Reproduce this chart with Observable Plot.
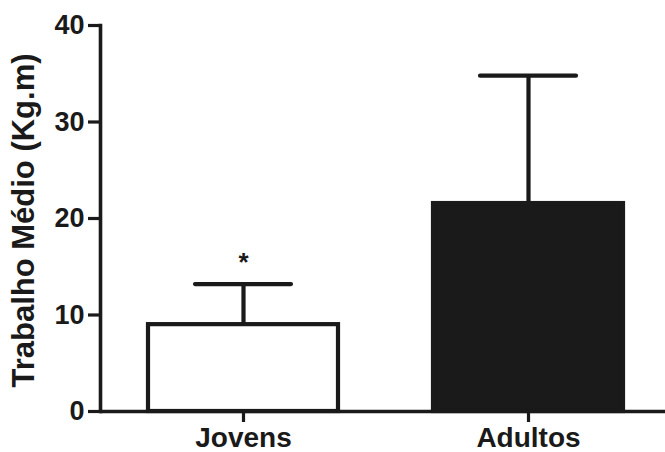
<!DOCTYPE html>
<html>
<head>
<meta charset="utf-8">
<script src="https://cdn.jsdelivr.net/npm/d3@7"></script>
<script src="https://cdn.jsdelivr.net/npm/@observablehq/plot@0.6"></script>
<style>
  html, body { margin: 0; padding: 0; background: #ffffff; }
  #chart { width: 665px; height: 452px; }
</style>
</head>
<body>
<div id="chart"></div>
<script>
// Mean work per group with standard deviation
const categories = ["Jovens", "Adultos"];
const means = [9.0, 21.55];
const sds = [4.2, 13.25];
const marks = ["*", ""];
const fills = ["#ffffff", "#1a1a1a"];
const yTicks = [0, 10, 20, 30, 40];
const yLabel = "Trabalho Médio (Kg.m)";

const rows = categories.map((c, i) => ({
  group: c, mean: means[i], top: means[i] + sds[i], mark: marks[i], fill: fills[i]
}));

const ink = "#1a1a1a";
const lw = 4.2;

const chart = Plot.plot({
  width: 665,
  height: 452,
  marginLeft: 100,
  marginRight: 0,
  marginTop: 25,
  marginBottom: 41,
  style: { fontFamily: "'Liberation Sans', Arial, sans-serif", fontWeight: "bold", color: ink, background: "#ffffff" },
  x: { domain: categories, range: [100, 671], paddingInner: 0.335, paddingOuter: 0.167, align: 0.5 },
  y: { domain: [0, 40] },
  marks: [
    Plot.barY(rows, { x: "group", y: "mean", fill: "fill", stroke: ink, strokeWidth: lw }),
    Plot.ruleX(rows, { x: "group", y1: "mean", y2: "top", stroke: ink, strokeWidth: lw }),
    Plot.tickY(rows, { x: "group", y: "top", stroke: ink, strokeWidth: lw, strokeLinecap: "round", insetLeft: 47, insetRight: 47 }),
    Plot.text(rows, { x: "group", y: "top", text: "mark", fontSize: 26, dy: -21, fill: ink }),
    Plot.ruleY([0], { stroke: ink, strokeWidth: 3.6 }),
    Plot.frame({ anchor: "left", stroke: ink, strokeWidth: 3.6 }),
    Plot.axisY({ ticks: yTicks, tickSize: 12, tickPadding: 4, fontSize: 27, fontWeight: "bold", stroke: ink, strokeWidth: 3.2, fill: ink, label: null }),
    Plot.axisX({ tickSize: 11, tickPadding: 5, fontSize: 28, fontWeight: "bold", stroke: ink, strokeWidth: 3.2, fill: ink, label: null }),
    Plot.text([yLabel], { frameAnchor: "left", textAnchor: "middle", rotate: -90, dx: -76, dy: 2, fontSize: 31, fontWeight: "bold", fill: ink })
  ]
});

document.getElementById("chart").appendChild(chart);
</script>
</body>
</html>
